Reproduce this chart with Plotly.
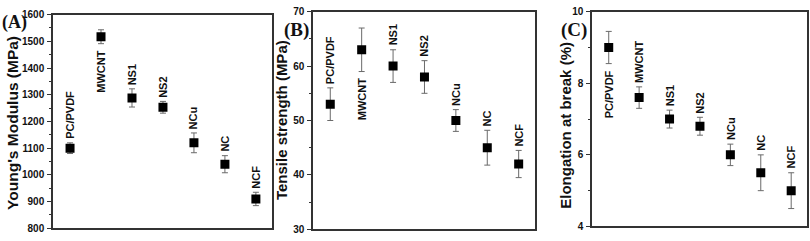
import plotly.graph_objects as go

categories = ["PC/PVDF", "MWCNT", "NS1", "NS2", "NCu", "NC", "NCF"]

modulus = [1100, 1517, 1288, 1253, 1120, 1040, 910]
modulus_err = [20, 26, 34, 22, 37, 32, 25]

tensile = [53, 63, 60, 58, 50, 45, 42]
tensile_err = [3, 4, 3, 3, 2, 3.2, 2.5]

elongation = [9.0, 7.6, 7.0, 6.8, 6.0, 5.5, 5.0]
elongation_err = [0.45, 0.3, 0.25, 0.25, 0.3, 0.5, 0.5]

# label placement: True = above the error bar, False = below
above_A = [True, False, True, True, True, True, True]
above_B = [True, False, True, True, True, True, True]
above_C = [False, True, True, True, True, True, True]

W, H = 810, 241

def px_x(a, b):
    return [a / W, b / W]

def px_y(top, bottom):
    return [(H - bottom) / H, (H - top) / H]

panels = [
    dict(vals=modulus, errs=modulus_err, above=above_A, xd=px_x(53, 272), yd=px_y(9, 234),
         yr=[800, 1600], dt=100, title="Young's Modulus (MPa)", letter="(A)", lx=0, ly=17,
         tx=13, ty=123, ts=15.5, ls=18),
    dict(vals=tensile, errs=tensile_err, above=above_B, xd=px_x(313, 535), yd=px_y(6, 235),
         yr=[30, 70], dt=10, title="Tensile strength (MPa)", letter="(B)", lx=282, ly=25,
         tx=281, ty=120, ts=15, ls=19),
    dict(vals=elongation, errs=elongation_err, above=above_C, xd=px_x(592, 807), yd=px_y(6, 232),
         yr=[4, 10], dt=2, title="Elongation at break (%)", letter="(C)", lx=559, ly=25,
         tx=566, ty=126, ts=15, ls=19),
]

fig = go.Figure()
annotations = []
layout = dict(
    width=W, height=H, margin=dict(l=0, r=0, t=0, b=0),
    paper_bgcolor="white", plot_bgcolor="white", showlegend=False,
    font=dict(family="Liberation Sans, Arial, sans-serif", color="#111"),
)

for i, p in enumerate(panels):
    n = "" if i == 0 else str(i + 1)
    xa, ya = "x" + n, "y" + n
    fig.add_trace(go.Scatter(
        x=categories, y=p["vals"], mode="markers", xaxis=xa, yaxis=ya,
        marker=dict(symbol="square", size=9, color="black"),
        error_y=dict(type="data", array=p["errs"], visible=True, color="#6a6a6a",
                     thickness=1, width=3),
    ))
    layout["xaxis" + n] = dict(
        domain=p["xd"], anchor=ya, type="category", range=[-0.55, 6.52],
        showticklabels=False, ticks="", showline=True, mirror=True,
        linecolor="#333", linewidth=1.5, showgrid=False, zeroline=False,
    )
    layout["yaxis" + n] = dict(
        domain=p["yd"], anchor=xa, range=p["yr"], dtick=p["dt"],
        ticks="outside", ticklen=4, tickwidth=1.2, tickcolor="#333",
        minor=dict(ticks="outside", ticklen=2.5, dtick=p["dt"] / 2, tickcolor="#333"),
        showline=True, mirror=True, linecolor="#333", linewidth=1.5,
        showgrid=False, zeroline=False, ticklabelstandoff=1,
        tickfont=dict(size=10, weight="bold", color="#111"),
    )
    # y-axis title
    annotations.append(dict(
        x=p["tx"] / W, y=(H - p["ty"]) / H, xref="paper", yref="paper",
        text="<b>%s</b>" % p["title"], showarrow=False, textangle=-90,
        xanchor="center", yanchor="middle",
        font=dict(size=p["ts"], color="#111"),
    ))
    for c, v, e, ab in zip(categories, p["vals"], p["errs"], p["above"]):
        annotations.append(dict(
            x=c, y=v + e if ab else v - e, xref=xa, yref=ya,
            text="<b>%s</b>" % c, showarrow=False, textangle=-90,
            xanchor="center", yanchor="bottom" if ab else "top",
            yshift=2 if ab else -5,
            font=dict(size=11, color="#111"),
        ))
    annotations.append(dict(
        x=p["lx"] / W, y=(H - p["ly"]) / H, xref="paper", yref="paper",
        text="<b>%s</b>" % p["letter"], showarrow=False,
        xanchor="left", yanchor="middle",
        font=dict(size=p["ls"], family="Liberation Serif, Times New Roman, serif", color="#111"),
    ))

layout["annotations"] = annotations
fig.update_layout(**layout)
fig.write_html("out.html", config={"displayModeBar": False},
               post_script="document.body.style.margin='0';document.body.style.overflow='hidden';")
